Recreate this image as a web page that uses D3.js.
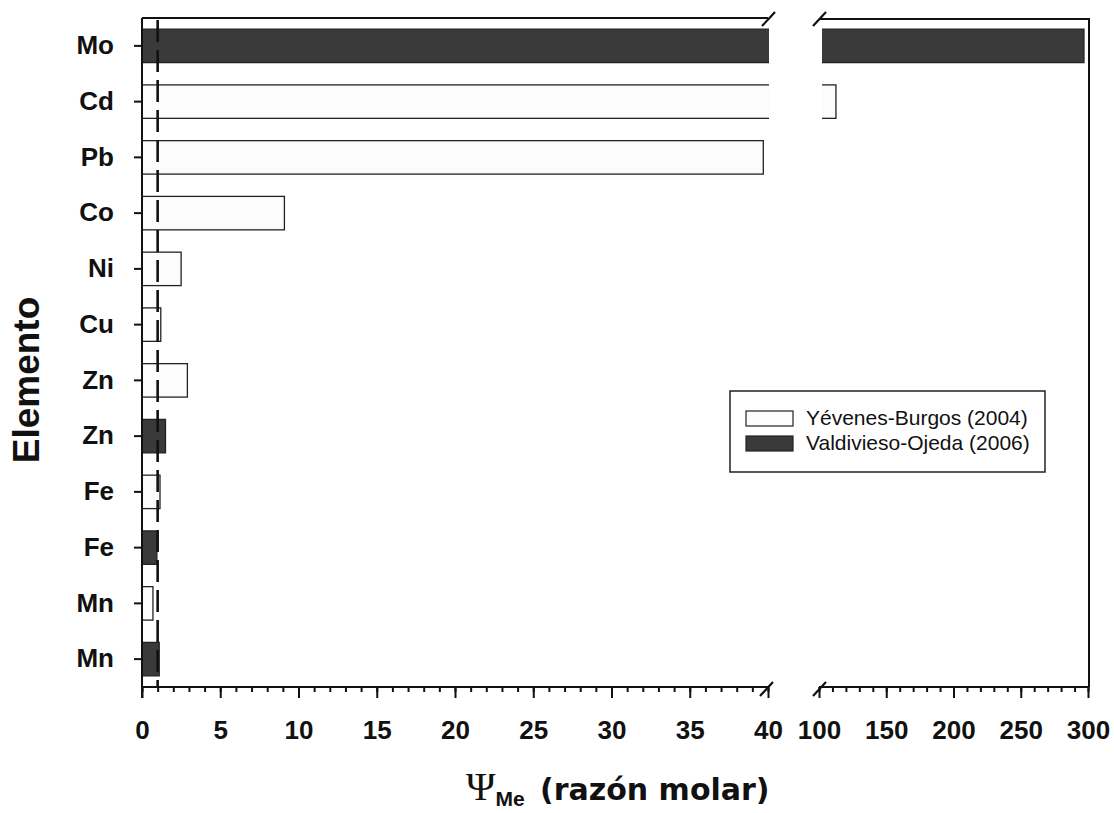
<!DOCTYPE html>
<html>
<head>
  <meta charset="utf-8">
  <script src="https://d3js.org/d3.v7.min.js"></script>
  <style>
    body { margin: 0; background: #fff; }
  </style>
</head>
<body>
  <div id="chart"></div>
</body>
</html>

<script>
  // rows top -> bottom
  var elements = ["Mo","Cd","Pb","Co","Ni","Cu","Zn","Zn","Fe","Fe","Mn","Mn"];
  var series   = ["V","Y","Y","Y","Y","Y","Y","V","Y","V","Y","V"];
  var values   = [297, 112.6, 39.7, 9.1, 2.5, 1.2, 2.9, 1.5, 1.15, 0.95, 0.7, 1.1];
  var legendLabels = ["Yévenes-Burgos (2004)", "Valdivieso-Ojeda (2006)"];
  var leftTicks  = d3.range(0, 41, 5);
  var rightTicks = d3.range(100, 301, 50);
  var refLine = 1;

  var width = 1114, height = 813;
  var fillOf = { Y: "#fcfcfc", V: "#3a3a3a" };

  var svg = d3.select("#chart")
    .append("svg")
      .attr("width", width)
      .attr("height", height);

  var xL = d3.scaleLinear().domain([0, 40]).range([142, 768]);
  var xR = d3.scaleLinear().domain([100, 300]).range([819, 1088]);
  var y = d3.scaleBand()
    .domain(d3.range(elements.length))
    .range([18, 687])
    .paddingInner(0.4)
    .paddingOuter(0.2);

  var yTop = 18, yBot = 687;

  // clip paths for the two panels
  var defs = svg.append("defs");
  defs.append("clipPath").attr("id", "clipL")
    .append("rect")
      .attr("x", xL(0) - 2).attr("y", 0)
      .attr("width", xL(40) + 1 - xL(0) + 2).attr("height", height);
  defs.append("clipPath").attr("id", "clipR")
    .append("rect")
      .attr("x", xR(100) + 3).attr("y", 0)
      .attr("width", xR(300) - xR(100)).attr("height", height);

  var rows = d3.range(elements.length);

  // left panel bars
  svg.append("g")
    .attr("clip-path", "url(#clipL)")
    .selectAll("rect")
    .data(rows)
    .enter()
    .append("rect")
      .attr("x", xL(0))
      .attr("y", function(i) { return y(i); })
      .attr("width", function(i) {
        return values[i] > 40 ? xL(40) + 12 - xL(0) : xL(values[i]) - xL(0);
      })
      .attr("height", y.bandwidth())
      .style("fill", function(i) { return fillOf[series[i]]; })
      .style("stroke", "#222")
      .style("stroke-width", 1.3);

  // right panel bars (only values past the break)
  svg.append("g")
    .attr("clip-path", "url(#clipR)")
    .selectAll("rect")
    .data(rows.filter(function(i) { return values[i] > 100; }))
    .enter()
    .append("rect")
      .attr("x", xR(100) - 12)
      .attr("y", function(i) { return y(i); })
      .attr("width", function(i) { return xR(values[i]) - xR(100) + 12; })
      .attr("height", y.bandwidth())
      .style("fill", function(i) { return fillOf[series[i]]; })
      .style("stroke", "#222")
      .style("stroke-width", 1.3);

  // dashed reference line at 1
  svg.append("line")
    .attr("x1", xL(refLine)).attr("x2", xL(refLine))
    .attr("y1", yTop + 2).attr("y2", yBot)
    .style("stroke", "#111")
    .style("stroke-width", 2.6)
    .style("stroke-dasharray", "22,8");

  // axes
  function styleAxis(g) {
    g.select(".domain").remove();
    g.selectAll(".tick line").style("stroke", "#111").style("stroke-width", 2);
  }

  // minor ticks
  svg.append("g")
    .attr("transform", "translate(0," + yBot + ")")
    .call(d3.axisBottom(xL).tickValues(d3.range(0, 41, 1)).tickSize(5).tickFormat(""))
    .call(styleAxis);
  svg.append("g")
    .attr("transform", "translate(0," + yBot + ")")
    .call(d3.axisBottom(xR).tickValues(d3.range(100, 301, 10)).tickSize(5).tickFormat(""))
    .call(styleAxis);

  // major ticks + labels
  var fmt = d3.format("d");
  [ [xL, leftTicks], [xR, rightTicks] ].forEach(function(p) {
    svg.append("g")
      .attr("transform", "translate(0," + yBot + ")")
      .call(d3.axisBottom(p[0]).tickValues(p[1]).tickSize(11).tickPadding(23).tickFormat(fmt))
      .call(styleAxis)
      .selectAll("text")
        .style("font-family", "'Liberation Sans', Arial, sans-serif")
        .style("font-weight", "bold")
        .style("font-size", "26px")
        .style("fill", "#111");
  });

  // y axis
  svg.append("g")
    .attr("transform", "translate(" + xL(0) + ",0)")
    .call(d3.axisLeft(y).tickSize(8).tickPadding(20).tickFormat(function(i) { return elements[i]; }))
    .call(styleAxis)
    .selectAll("text")
      .style("font-family", "'Liberation Sans', Arial, sans-serif")
      .style("font-weight", "bold")
      .style("font-size", "26px")
      .style("fill", "#111");

  // frame lines
  var frame = svg.append("g")
    .style("stroke", "#111")
    .style("stroke-width", 2)
    .style("fill", "none");
  frame.append("line")   // left axis line
    .attr("x1", xL(0)).attr("x2", xL(0)).attr("y1", yTop).attr("y2", yBot + 11);
  frame.append("line")
    .attr("x1", xL(0)).attr("x2", xL(40)).attr("y1", yTop).attr("y2", yTop);
  frame.append("line")
    .attr("x1", xL(0)).attr("x2", xL(40)).attr("y1", yBot).attr("y2", yBot);
  frame.append("line")
    .attr("x1", xR(100)).attr("x2", xR(300) + 2).attr("y1", yTop + 1).attr("y2", yTop + 1);
  frame.append("line")
    .attr("x1", xR(100)).attr("x2", xR(300)).attr("y1", yBot).attr("y2", yBot);
  frame.append("line")
    .attr("x1", xR(300) + 1).attr("x2", xR(300) + 1).attr("y1", yTop + 1).attr("y2", yBot);

  // break marks
  var breaks = [[xL(40), yTop + 1], [xR(100), yTop + 1], [xL(40) - 2, yBot + 2], [xR(100), yBot + 2]];
  frame.selectAll(".brk")
    .data(breaks)
    .enter()
    .append("line")
      .attr("x1", function(d) { return d[0] - 6; })
      .attr("y1", function(d) { return d[1] + 7; })
      .attr("x2", function(d) { return d[0] + 7; })
      .attr("y2", function(d) { return d[1] - 7; })
      .style("stroke-width", 2.2);

  // legend
  var lg = svg.append("g").attr("transform", "translate(730,391)");
  lg.append("rect")
    .attr("width", 315).attr("height", 81)
    .style("fill", "#fff").style("stroke", "#222").style("stroke-width", 1.5);
  ["Y", "V"].forEach(function(s, k) {
    lg.append("rect")
      .attr("x", 16).attr("y", 20 + k * 25)
      .attr("width", 47).attr("height", 15)
      .style("fill", fillOf[s]).style("stroke", "#222").style("stroke-width", 1.2);
    lg.append("text")
      .attr("x", 76).attr("y", 34 + k * 25)
      .text(legendLabels[k])
      .style("font-family", "'Liberation Sans', Arial, sans-serif")
      .style("font-size", "21px")
      .style("fill", "#111");
  });

  // axis titles
  svg.append("text")
    .attr("transform", "translate(39,380) rotate(-90)")
    .attr("text-anchor", "middle")
    .text("Elemento")
    .style("font-family", "'Liberation Sans', Arial, sans-serif")
    .style("font-weight", "bold")
    .style("font-size", "37px")
    .style("fill", "#111");

  var xt = svg.append("text")
    .attr("x", 466).attr("y", 800)
    .style("fill", "#111");
  xt.append("tspan")
    .text("Ψ")
    .style("font-family", "'Liberation Serif', serif")
    .style("font-size", "40px");
  xt.append("tspan")
    .attr("dy", 6)
    .text("Me")
    .style("font-family", "'Liberation Sans', Arial, sans-serif")
    .style("font-weight", "bold")
    .style("font-size", "21px");
  xt.append("tspan")
    .attr("x", 540).attr("dy", -6)
    .text("(razón molar)")
    .style("font-family", "'DejaVu Sans', sans-serif")
    .style("font-weight", "bold")
    .style("font-size", "30px");
</script>
